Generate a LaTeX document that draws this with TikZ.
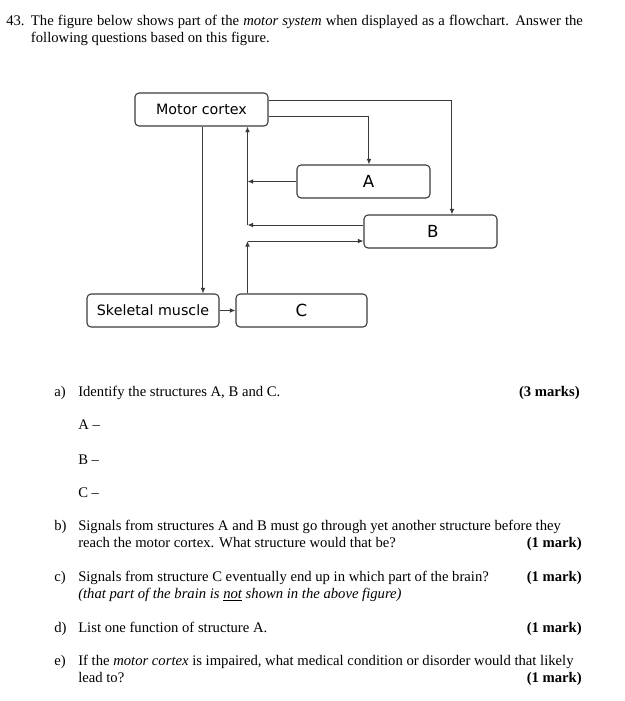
\documentclass[tikz,border=0pt]{standalone}
\usepackage{fontspec}
\setmainfont{Liberation Serif}
\newfontfamily\dvsans{DejaVu Sans}
\usetikzlibrary{arrows.meta,calc}
\definecolor{linec}{HTML}{3A3A3A}
\begin{document}
\begin{tikzpicture}[x=0.75pt,y=-0.75pt,
 txt/.style={inner sep=0pt, font=\fontsize{11.0}{12.75}\selectfont, anchor=base west},
 mk/.style={inner sep=0pt, font=\fontsize{11.0}{12.75}\selectfont\bfseries, anchor=base east},
 box/.style={draw=linec, line width=0.8pt, rounded corners=3pt, minimum height=24.75pt, inner sep=0pt, font=\dvsans\fontsize{10.7}{12}\selectfont},
 big/.style={font=\dvsans\fontsize{12.5}{14}\selectfont},
 arr/.style={draw=linec, line width=0.75pt, -{Latex[length=4.2pt,width=3.6pt]}},
]
\useasboundingbox (0,0) rectangle (625,701);

% header
\node[txt] (q) at (6,25) {43.};
\node[txt] (h1) at (30.7,25) {\makebox[414pt][s]{The figure below shows part of the \textit{motor system} when displayed as a flowchart. Answer the}};
\node[txt] (h2) at (30.7,42) {following questions based on this figure.};

% diagram
\node[box, minimum width=99.75pt] (MC) at (201.5,109.5) {Motor cortex};
\node[box, big, minimum width=99.75pt] (A) at (363.5,181.5) {\hspace*{7.5pt}A};
\node[box, big, minimum width=99.75pt] (B) at (430.5,231.5) {\hspace*{3.5pt}B};
\node[box, minimum width=99pt] (SM) at (153,310.5) {Skeletal muscle};
\node[box, big, minimum width=98.25pt] (C) at (301.5,310.5) {C};

\coordinate (J) at (247.5,225);
\coordinate (K) at (247.5,241);

\draw[arr] ([yshift=6.4pt]MC.east) -| ([xshift=16.1pt]B.north);
\draw[arr] ([yshift=-4.9pt]MC.east) -| ([xshift=4.1pt]A.north);
\draw[arr] ([xshift=1.1pt]MC.south) -- ([xshift=1.1pt]MC.south |- SM.north);
\draw[arr] (A.west) -- (A.west -| J);
\draw[arr] (J -| B.west) -- (J);
\draw[arr] (J) -- (J |- MC.south);
\draw[arr] (K |- C.north) -- (K);
\draw[arr] (K) -- (K -| B.west);
\draw[arr] (SM.east) -- (C.west);

% questions
\node[txt] (la) at (54,396) {a)};
\node[txt] (qa) at (78,396) {Identify the structures A, B and C.};
\node[mk] (ma) at (580,396) {(3 marks)};
\node[txt] (ansA) at (78,429) {A --};
\node[txt] (ansB) at (78,464) {B --};
\node[txt] (ansC) at (78,497) {C --};

\node[txt] (lb) at (54,530) {b)};
\node[txt] (qb1) at (78,530) {Signals from structures A and B must go through yet another structure before they};
\node[txt] (qb2) at (78,547) {reach the motor cortex. What structure would that be?};
\node[mk] (mb) at (582,547) {(1 mark)};

\node[txt] (lc) at (54,581) {c)};
\node[txt] (qc1) at (78,581) {Signals from structure C eventually end up in which part of the brain?};
\node[mk] (mc) at (582,581) {(1 mark)};
\node[txt] (qc2) at (78,598) {\textit{(that part of the brain is \underline{not} shown in the above figure)}};

\node[txt] (ld) at (54,632) {d)};
\node[txt] (qd) at (78,632) {List one function of structure A.};
\node[mk] (md) at (582,632) {(1 mark)};

\node[txt] (le) at (54,665) {e)};
\node[txt] (qe1) at (78,665) {If the \textit{motor cortex} is impaired, what medical condition or disorder would that likely};
\node[txt] (qe2) at (78,682) {lead to?};
\node[mk] (me) at (582,682) {(1 mark)};
\end{tikzpicture}
\end{document}
